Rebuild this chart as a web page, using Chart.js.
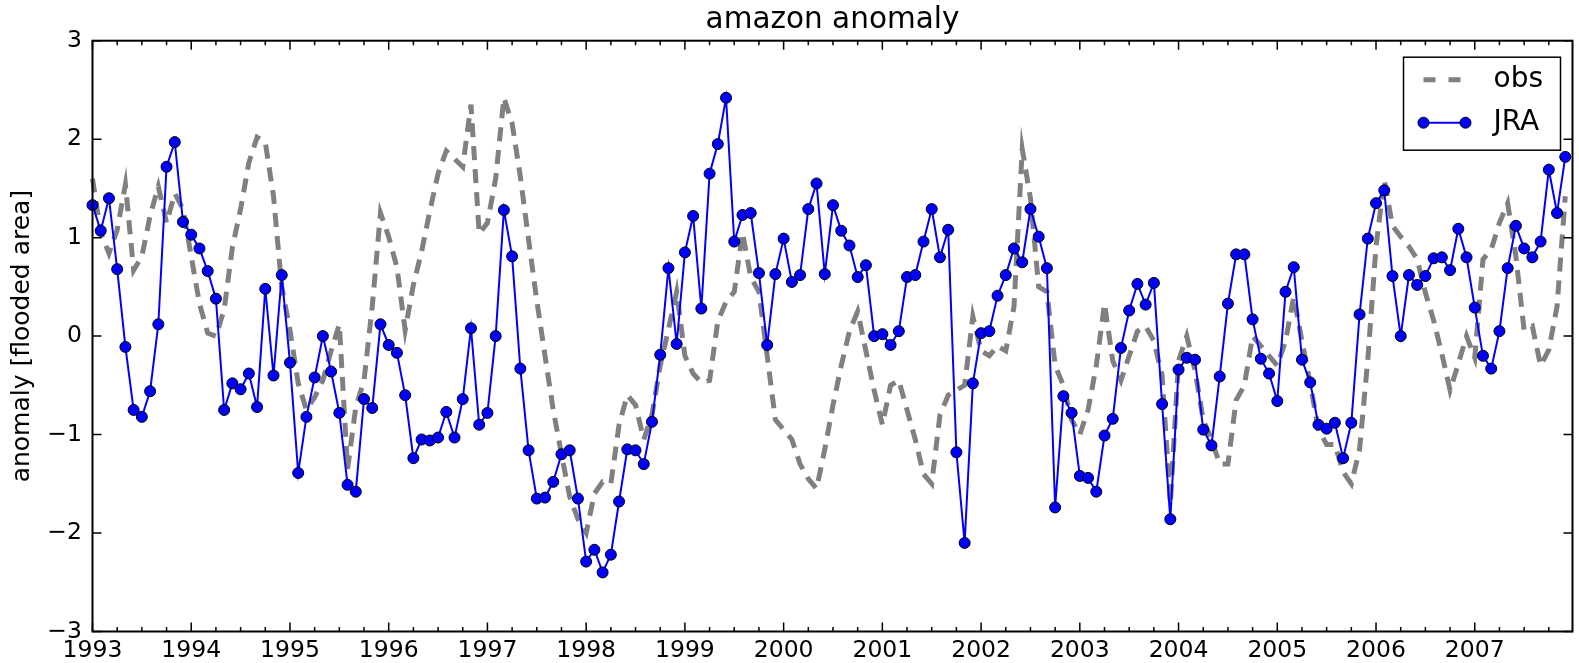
<!DOCTYPE html>
<html>
<head>
<meta charset="utf-8">
<title>amazon anomaly</title>
<script src="https://cdn.jsdelivr.net/npm/chart.js@4.4.1/dist/chart.umd.min.js"></script>
<style>
  html, body { margin: 0; padding: 0; background: #fff; }
  canvas { display: block; }
</style>
</head>
<body>
<canvas id="anomalyChart" width="1579" height="663"></canvas>
<script>
// monthly series, Jan 1993 .. Dec 2007
const startYear = 1993;
const yearTicks = [1993, 1994, 1995, 1996, 1997, 1998, 1999, 2000, 2001, 2002, 2003, 2004, 2005, 2006, 2007];
const anomalyTicks = [-3, -2, -1, 0, 1, 2, 3];

const obs = [
  1.60, 1.05, 0.84, 1.08, 1.54, 0.67, 0.81, 1.22, 1.52, 1.15, 1.45, 1.29,
  0.81, 0.33, 0.03, 0.00, 0.27, 0.90, 1.29, 1.76, 2.02, 1.97, 1.42, 0.50,
  0.06, -0.48, -0.75, -0.62, -0.45, -0.15, 0.12, -1.35, -0.72, -0.45, 0.30, 1.25,
  1.01, 0.70, 0.06, 0.52, 0.86, 1.27, 1.65, 1.88, 1.80, 1.72, 2.35, 1.04,
  1.15, 1.60, 2.42, 2.16, 1.62, 0.98, 0.36, -0.20, -0.75, -1.20, -1.63, -1.86,
  -2.00, -1.60, -1.48, -1.50, -0.90, -0.60, -0.70, -1.05, -0.80, -0.30, 0.07, 0.45,
  -0.20, -0.38, -0.47, -0.45, 0.15, 0.35, 0.45, 1.05, 0.60, 0.45, -0.20, -0.85,
  -0.95, -1.05, -1.30, -1.45, -1.55, -1.15, -0.70, -0.30, 0.05, 0.25, -0.15, -0.55,
  -0.90, -0.50, -0.45, -0.75, -1.05, -1.40, -1.50, -0.80, -0.60, -0.55, -0.50, 0.20,
  -0.15, -0.20, -0.10, -0.15, 0.30, 1.90, 1.40, 0.50, 0.45, -0.30, -0.50, -0.85,
  -1.00, -0.75, -0.30, 0.33, -0.25, -0.45, -0.20, 0.05, 0.10, -0.05, -0.40, -1.70,
  -0.25, 0.00, -0.35, -0.85, -1.05, -1.30, -1.30, -0.65, -0.50, 0.00, -0.10, -0.20,
  -0.30, -0.05, 0.40, -0.05, -0.48, -0.95, -1.10, -1.10, -1.38, -1.50, -1.15, -0.24,
  0.91, 1.59, 1.12, 1.01, 0.91, 0.78, 0.44, 0.16, -0.18, -0.55, -0.28, 0.00,
  -0.22, 0.78, 0.88, 1.15, 1.35, 0.81, 0.06, 0.10, -0.30, -0.14, 0.30, 1.42
];

const jra = [
  1.33, 1.07, 1.40, 0.68, -0.11, -0.75, -0.82, -0.56, 0.12, 1.72, 1.97, 1.16,
  1.03, 0.89, 0.66, 0.38, -0.75, -0.48, -0.54, -0.38, -0.72, 0.48, -0.40, 0.62,
  -0.27, -1.39, -0.82, -0.42, 0.00, -0.36, -0.78, -1.51, -1.58, -0.64, -0.73, 0.12,
  -0.09, -0.17, -0.60, -1.24, -1.05, -1.06, -1.03, -0.77, -1.03, -0.64, 0.08, -0.90,
  -0.78, 0.00, 1.28, 0.81, -0.33, -1.16, -1.65, -1.64, -1.48, -1.20, -1.16, -1.65,
  -2.29, -2.17, -2.40, -2.22, -1.68, -1.15, -1.16, -1.30, -0.87, -0.19, 0.69, -0.08,
  0.85, 1.22, 0.28, 1.65, 1.95, 2.42, 0.96, 1.23, 1.25, 0.64, -0.09, 0.63,
  0.99, 0.55, 0.62, 1.29, 1.55, 0.63, 1.33, 1.07, 0.92, 0.60, 0.72, 0.00,
  0.02, -0.09, 0.05, 0.60, 0.62, 0.96, 1.29, 0.80, 1.08, -1.18, -2.10, -0.48,
  0.03, 0.05, 0.41, 0.62, 0.89, 0.75, 1.29, 1.01, 0.69, -1.74, -0.61, -0.78,
  -1.42, -1.44, -1.58, -1.01, -0.84, -0.12, 0.26, 0.53, 0.32, 0.54, -0.69, -1.86,
  -0.34, -0.22, -0.24, -0.95, -1.11, -0.41, 0.33, 0.83, 0.83, 0.17, -0.23, -0.38,
  -0.66, 0.45, 0.70, -0.24, -0.47, -0.90, -0.94, -0.88, -1.24, -0.88, 0.22, 0.99,
  1.35, 1.48, 0.61, 0.00, 0.62, 0.52, 0.61, 0.79, 0.80, 0.67, 1.09, 0.80,
  0.29, -0.20, -0.33, 0.05, 0.69, 1.12, 0.89, 0.80, 0.96, 1.69, 1.25, 1.82
];

const FONT = 'DejaVu Sans';
const asPoints = values => values.map((v, i) => ({ x: startYear + i / 12, y: v }));
const minusSign = v => (v < 0 ? '\u2212' + Math.abs(v) : String(v));

// inward ticks on all four sides plus the axes frame
const frameTicks = {
  id: 'frameTicks',
  afterDatasetsDraw(chart) {
    const { ctx, chartArea: a } = chart;
    const xs = chart.scales.x, ys = chart.scales.y;
    ctx.save();
    ctx.strokeStyle = '#000';
    ctx.lineWidth = 1.5;
    ctx.beginPath();
    xs.ticks.forEach(t => {
      const px = xs.getPixelForValue(t.value);
      ctx.moveTo(px, a.bottom); ctx.lineTo(px, a.bottom - 9);
      ctx.moveTo(px, a.top); ctx.lineTo(px, a.top + 9);
      for (let q = 1; q < 4; q++) {
        const mx = xs.getPixelForValue(t.value + q / 4);
        if (mx >= a.right) break;
        ctx.moveTo(mx, a.bottom); ctx.lineTo(mx, a.bottom - 4.5);
        ctx.moveTo(mx, a.top); ctx.lineTo(mx, a.top + 4.5);
      }
    });
    ys.ticks.forEach(t => {
      const py = ys.getPixelForValue(t.value);
      ctx.moveTo(a.left, py); ctx.lineTo(a.left + 9, py);
      ctx.moveTo(a.right, py); ctx.lineTo(a.right - 9, py);
    });
    ctx.stroke();
    ctx.lineWidth = 2;
    ctx.strokeRect(a.left, a.top, a.right - a.left, a.bottom - a.top);
    ctx.restore();
  }
};

// boxed legend in the upper right, two markers on the JRA sample
const boxLegend = {
  id: 'boxLegend',
  afterDraw(chart) {
    const { ctx, chartArea: a } = chart;
    const [obsSet, jraSet] = chart.data.datasets;
    const w = 157, h = 93;
    const left = a.right - 12 - w, top = a.top + 16.5;
    ctx.save();
    ctx.fillStyle = '#fff';
    ctx.fillRect(left, top, w, h);
    ctx.strokeStyle = '#000';
    ctx.lineWidth = 1.5;
    ctx.strokeRect(left, top, w, h);

    const x0 = left + 20, x1 = left + 62;
    const row1 = top + 22.5, row2 = top + 65.5;

    ctx.strokeStyle = obsSet.borderColor;
    ctx.lineWidth = obsSet.borderWidth;
    ctx.setLineDash([12, 13]);
    ctx.beginPath();
    ctx.moveTo(x0, row1); ctx.lineTo(x1, row1);
    ctx.stroke();
    ctx.setLineDash([]);

    ctx.strokeStyle = jraSet.borderColor;
    ctx.lineWidth = jraSet.borderWidth;
    ctx.beginPath();
    ctx.moveTo(x0, row2); ctx.lineTo(x1, row2);
    ctx.stroke();
    ctx.fillStyle = jraSet.pointBackgroundColor;
    ctx.strokeStyle = jraSet.pointBorderColor;
    ctx.lineWidth = jraSet.pointBorderWidth;
    [x0, x1].forEach(px => {
      ctx.beginPath();
      ctx.arc(px, row2, jraSet.pointRadius, 0, Math.PI * 2);
      ctx.fill();
      ctx.stroke();
    });

    ctx.fillStyle = '#000';
    ctx.font = '28px "' + FONT + '"';
    ctx.textBaseline = 'middle';
    ctx.fillText(obsSet.label, left + 90, row1);
    ctx.fillText(jraSet.label, left + 90, row2);
    ctx.restore();
  }
};

new Chart(document.getElementById('anomalyChart'), {
  type: 'line',
  data: {
    datasets: [
      {
        label: 'obs',
        data: asPoints(obs),
        borderColor: '#808080',
        borderWidth: 5,
        borderDash: [14, 9],
        pointRadius: 0,
        tension: 0,
        clip: false,
        order: 1
      },
      {
        label: 'JRA',
        data: asPoints(jra),
        borderColor: '#0000ff',
        borderWidth: 2,
        pointRadius: 5.5,
        pointBackgroundColor: '#0000ff',
        pointBorderColor: '#000',
        pointBorderWidth: 1,
        tension: 0,
        clip: false,
        order: 0
      }
    ]
  },
  options: {
    responsive: false,
    devicePixelRatio: 1,
    animation: false,
    layout: { padding: { left: 0, right: 2, top: 0, bottom: 0 } },
    plugins: {
      legend: { display: false },
      tooltip: { enabled: false },
      title: {
        display: true,
        fullSize: false,
        text: 'amazon anomaly',
        color: '#000',
        font: { family: FONT, size: 29.5, weight: 'normal' },
        padding: { top: 2.5, bottom: 2.8 }
      }
    },
    scales: {
      x: {
        type: 'linear',
        min: startYear,
        max: 2007.99,
        grid: { display: false, drawTicks: false },
        border: { display: false },
        afterBuildTicks: s => { s.ticks = yearTicks.map(v => ({ value: v })); },
        afterFit: s => { s.height = 31.5; },
        ticks: {
          color: '#000',
          font: { family: FONT, size: 23.5 },
          padding: 5,
          maxRotation: 0,
          autoSkip: false,
          callback: v => String(v)
        }
      },
      y: {
        min: -3,
        max: 3,
        grid: { display: false, drawTicks: false },
        border: { display: false },
        afterBuildTicks: s => { s.ticks = anomalyTicks.map(v => ({ value: v })); },
        afterFit: s => { s.width = 92.5; },
        ticks: {
          color: '#000',
          font: { family: FONT, size: 23.5 },
          padding: 10.5,
          callback: v => minusSign(v)
        },
        title: {
          display: true,
          text: 'anomaly [flooded area]',
          color: '#000',
          font: { family: FONT, size: 25 },
          padding: { top: 7, bottom: 0 }
        }
      }
    }
  },
  plugins: [frameTicks, boxLegend]
});
</script>
</body>
</html>
